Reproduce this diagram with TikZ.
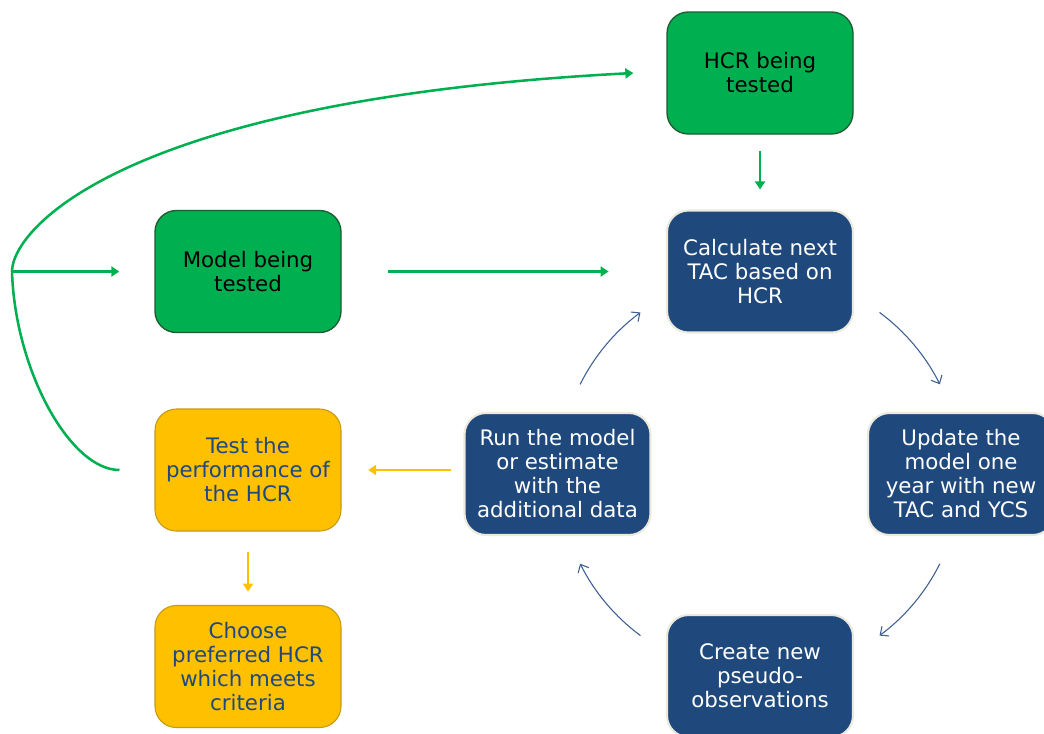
\documentclass[tikz,border=0pt]{standalone}
\usepackage{fontspec}
\setmainfont{DejaVu Sans}
\usetikzlibrary{arrows.meta}

\definecolor{hcrgreen}{RGB}{0,176,80}
\definecolor{hcrgreenline}{RGB}{30,90,50}
\definecolor{navy}{RGB}{31,73,125}
\definecolor{paleline}{RGB}{236,234,222}
\definecolor{amber}{RGB}{255,192,0}
\definecolor{amberline}{RGB}{196,154,20}
\definecolor{loopblue}{RGB}{60,94,145}

\tikzset{
  box/.style={rounded corners=16pt, minimum width=139.5pt, minimum height=91.5pt,
    align=center, inner sep=2pt, font=\fontsize{16}{18}\selectfont},
  greenbox/.style={box, fill=hcrgreen, draw=hcrgreenline, line width=1pt, text=black},
  bluebox/.style={box, fill=navy, draw=paleline, line width=1.6pt, text=white},
  yellowbox/.style={box, fill=amber, draw=amberline, line width=0.8pt, text=navy},
  garrow/.style={draw=hcrgreen, line width=1.9pt, -{Triangle[length=6pt,width=7.5pt]}},
  yarrow/.style={draw=amber, line width=1.6pt, -{Triangle[length=6pt,width=7.5pt]}},
  looparrow/.style={draw=loopblue, line width=0.8pt, -{Straight Barb[length=5pt,width=9pt]}}
}

\begin{document}
\begin{tikzpicture}[x=0.75pt,y=0.75pt,yscale=-1,xscale=1]
\useasboundingbox (0,0) rectangle (1044,733);

%Shape: Rounded Rect [green]
\node[greenbox] (hcr) at (760,73) {HCR being\\tested};
\node[greenbox] (model) at (248,271.5) {Model being\\tested};

%Shape: Rounded Rect [blue loop]
\node[bluebox] (calc) at (760,271.5) {Calculate next\\TAC based on\\HCR};
\node[bluebox] (update) at (961,474) {Update the\\model one\\year with new\\TAC and YCS};
\node[bluebox] (create) at (760,676) {Create new\\pseudo-\\observations};
\node[bluebox] (run) at (557.5,474) {Run the model\\or estimate\\with the\\additional data};

%Shape: Rounded Rect [yellow]
\node[yellowbox] (test) at (248,470) {Test the\\performance of\\the HCR};
\node[yellowbox] (choose) at (248,666.5) {Choose\\preferred HCR\\which meets\\criteria};

%Straight Lines [green]
\draw[garrow, shorten <=12pt, shorten >=15pt] (hcr) -- (calc);
\draw[garrow, shorten <=35pt, shorten >=43pt] (model) -- (calc);
\coordinate (split) at (12,271.5);
\draw[garrow] (split) -- ([xshift=-26.25pt]model.west);
\draw[garrow] ([xshift=-26.25pt]test.west) .. controls (70,470) and (15,370) .. (split)
  .. controls (12,230) and (120,100) .. ([xshift=-24.75pt]hcr.west);

%Straight Lines [yellow]
\draw[yarrow, shorten <=9pt, shorten >=20pt] (run.west |- test.east) -- (test.east);
\draw[yarrow, shorten <=15pt, shorten >=10pt] (test) -- (choose);

%Arcs [loop]
\coordinate (hub) at (calc |- run);
\draw[looparrow] (hub) ++(-53.5:201) arc[start angle=-53.5, end angle=-26.5, radius=201];
\draw[looparrow] (hub) ++(26.5:201) arc[start angle=26.5, end angle=53.5, radius=201];
\draw[looparrow] (hub) ++(126.5:201) arc[start angle=126.5, end angle=153.5, radius=201];
\draw[looparrow] (hub) ++(-153.5:201) arc[start angle=-153.5, end angle=-126.5, radius=201];

\end{tikzpicture}
\end{document}
